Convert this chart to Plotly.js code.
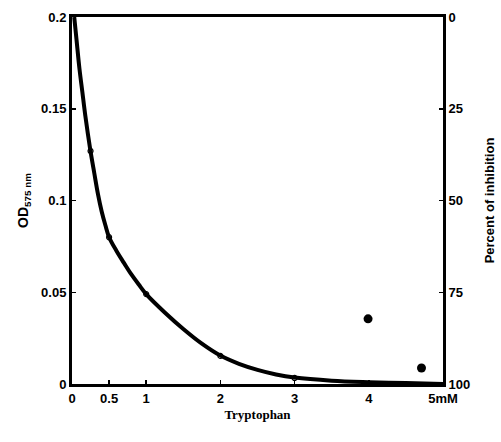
<!DOCTYPE html>
<html><head><meta charset="utf-8">
<script src="https://cdn.plot.ly/plotly-3.0.1.min.js"></script>
<style>html,body{margin:0;padding:0;background:#fff;}#chart{width:501px;height:442px;}</style>
</head><body><div id="chart"></div>
<script>
// Fitted curve
const curveX = [0.03, 0.06, 0.1, 0.14, 0.18, 0.245, 0.3, 0.35, 0.4, 0.45, 0.5, 0.6, 0.7, 0.8, 0.9, 1, 1.25, 1.5, 1.75, 2, 2.25, 2.5, 2.75, 3, 3.5, 4, 4.5, 5];
const curveY = [0.2, 0.188, 0.172, 0.159, 0.146, 0.128, 0.115, 0.1035, 0.094, 0.0865, 0.080, 0.0725, 0.066, 0.0597, 0.0542, 0.049, 0.039, 0.030, 0.022, 0.0155, 0.011, 0.0077, 0.0052, 0.0035, 0.0018, 0.001, 0.0005, 0.0];
// Open-circle measurements
const openX = [0.25, 0.5, 1, 2, 3];
const openY = [0.127, 0.080, 0.049, 0.0153, 0.0033];
// Filled-dot measurements
const filledX = [3.99, 4.71];
const filledY = [0.0355, 0.0087];
// Tick labels
const xTickVals = [0, 0.5, 1, 2, 3, 4, 5];
const xTickText = ['0', '0.5', '1', '2', '3', '4', '5mM'];
const yTickVals = [0, 0.05, 0.1, 0.15, 0.2];
const yTickText = ['0', '0.05', '0.1', '0.15', '0.2'];
const y2TickVals = [0, 25, 50, 75, 100];
const y2TickText = ['0', '25', '50', '75', '100'];

const tickFont = {family: 'Liberation Sans, Arial, sans-serif', size: 13, color: '#000', weight: 'bold'};

const traces = [
  {x: curveX, y: curveY, mode: 'lines', line: {color: '#000', width: 4, shape: 'spline', smoothing: 1}, hoverinfo: 'skip', showlegend: false},
  {x: openX, y: openY, mode: 'markers', marker: {symbol: 'circle-open', size: 5, color: '#000', line: {width: 1.2, color: '#000'}}, showlegend: false},
  {x: filledX, y: filledY, mode: 'markers', marker: {symbol: 'circle', size: 9, color: '#000'}, showlegend: false},
  {x: [0], y: [0], yaxis: 'y2', mode: 'markers', marker: {opacity: 0}, hoverinfo: 'skip', showlegend: false}
];

const layout = {
  width: 501, height: 442,
  margin: {l: 72, r: 58, t: 17, b: 58},
  paper_bgcolor: '#fff', plot_bgcolor: '#fff',
  showlegend: false,
  xaxis: {
    range: [0, 5], tickvals: xTickVals, ticktext: xTickText,
    showgrid: false, zeroline: false, showline: true, linecolor: '#000', linewidth: 3,
    mirror: true, ticks: 'inside', ticklen: 4, tickwidth: 1.5, tickcolor: '#000',
    tickfont: tickFont,
    title: {text: 'Tryptophan', font: {family: 'Liberation Serif, serif', size: 13, color: '#000', weight: 'bold'}, standoff: 6}
  },
  yaxis: {
    range: [0, 0.2], tickvals: yTickVals, ticktext: yTickText,
    showgrid: false, zeroline: false, showline: true, linecolor: '#000', linewidth: 3,
    ticks: 'inside', ticklen: 4, tickwidth: 1.5, tickcolor: '#000',
    tickfont: tickFont,
    title: {text: 'OD<sub>575 nm</sub>', font: {family: 'Liberation Sans, Arial, sans-serif', size: 14, color: '#000', weight: 'bold'}, standoff: 10}
  },
  yaxis2: {
    overlaying: 'y', side: 'right', range: [100, 0], tickvals: y2TickVals, ticktext: y2TickText,
    showgrid: false, zeroline: false, showline: true, linecolor: '#000', linewidth: 3,
    ticks: 'inside', ticklen: 4, tickwidth: 1.5, tickcolor: '#000',
    tickfont: tickFont,
    title: {text: 'Percent of inhibition', font: {family: 'Liberation Sans, Arial, sans-serif', size: 13, color: '#000', weight: 'bold'}, standoff: 16}
  }
};

Plotly.newPlot('chart', traces, layout, {displayModeBar: false, staticPlot: true});
</script>
</body></html>
